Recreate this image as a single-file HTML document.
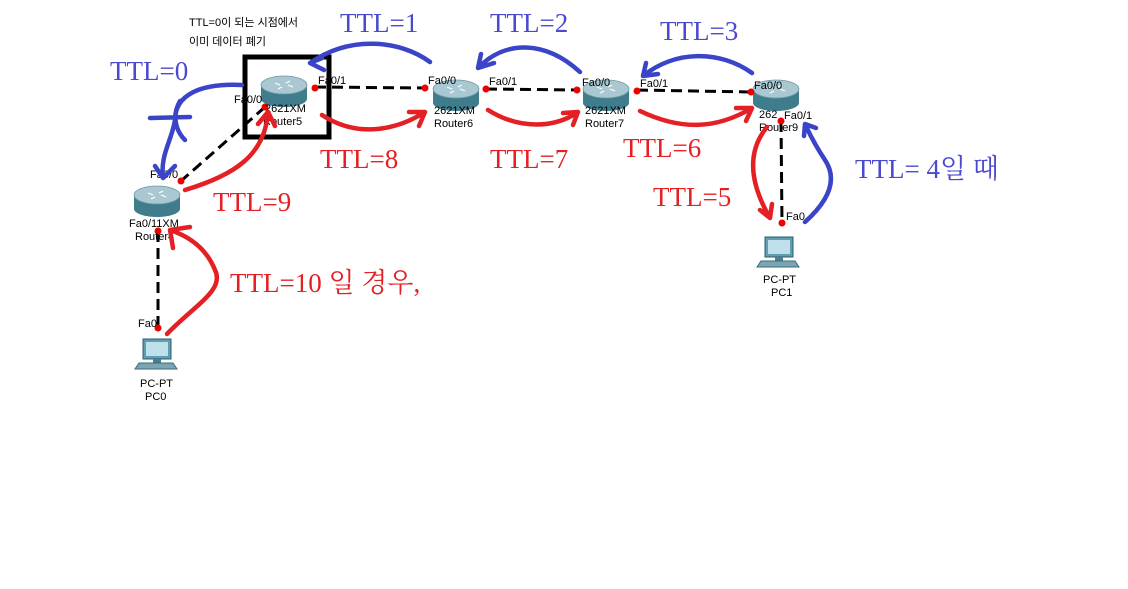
<!DOCTYPE html>
<html><head><meta charset="utf-8"><style>
html,body{margin:0;padding:0;background:#fff;width:1128px;height:589px;overflow:hidden}
svg{display:block}
.s{font-family:"Liberation Sans","Noto Sans CJK KR",sans-serif;font-size:11px;fill:#000}
.b{font-family:"Liberation Serif","Noto Serif CJK SC","Noto Sans CJK KR",serif;font-size:27px}
</style></head><body>
<svg width="1128" height="589" viewBox="0 0 1128 589">
<defs>
<g id="rt"><path d="M-23,-5 L-23,9 A23,8 0 0 0 23,9 L23,-5 Z" fill="#3f7d8d"/><ellipse cx="0" cy="-5" rx="23" ry="9" fill="#a9c8d2" stroke="#6c97a4" stroke-width="0.8"/><path d="M-9,-7 l5,2 M9,-3 l-5,-2 M-6,-1 l4,-2 M6,-9 l-4,2" stroke="#fff" stroke-width="1.2"/></g>
<g id="pc"><rect x="-14" y="-16" width="28" height="20" fill="#5f9db0" stroke="#2d5d6c"/><rect x="-11" y="-13" width="22" height="14" fill="#bfe0ea"/><rect x="-4" y="4" width="8" height="4" fill="#4b7f8f"/><path d="M-18,8 L16,8 L20,14 L-22,14 Z" fill="#7aa5b3" stroke="#3c6b79"/></g>
</defs>
<g stroke="#000" stroke-width="3" stroke-dasharray="11,6" fill="none">
<path d="M315,87 L425,88"/><path d="M486,89 L577,90"/><path d="M637,90 L751,92"/>
<path d="M265,107 L181,181"/><path d="M158,231 L158,328"/><path d="M781,121 L782,224"/>
</g>
<use href="#rt" x="284" y="90"/><use href="#rt" x="456" y="94"/><use href="#rt" x="606" y="94"/><use href="#rt" x="776" y="94"/><use href="#rt" x="157" y="200"/>
<use href="#pc" x="157" y="355"/><use href="#pc" x="779" y="253"/>
<g fill="#e00"><circle cx="315" cy="88" r="3.5"/><circle cx="425" cy="88" r="3.5"/><circle cx="486" cy="89" r="3.5"/><circle cx="577" cy="90" r="3.5"/><circle cx="637" cy="91" r="3.5"/><circle cx="751" cy="92" r="3.5"/><circle cx="265" cy="107" r="3.5"/><circle cx="181" cy="181" r="3.5"/><circle cx="158" cy="231" r="3.5"/><circle cx="158" cy="328" r="3.5"/><circle cx="781" cy="121" r="3.5"/><circle cx="782" cy="223" r="3.5"/></g>
<g class="s">
<text x="318" y="84">Fa0/1</text><text x="428" y="84">Fa0/0</text><text x="489" y="85">Fa0/1</text><text x="582" y="86">Fa0/0</text><text x="640" y="87">Fa0/1</text><text x="754" y="89">Fa0/0</text>
<text x="234" y="103">Fa0/0</text><text x="150" y="178">Fa0/0</text><text x="129" y="227">Fa0/11XM</text><text x="138" y="327">Fa0</text><text x="786" y="220">Fa0</text>
<text x="265" y="112">2621XM</text><text x="263" y="125">Router5</text>
<text x="434" y="114">2621XM</text><text x="434" y="127">Router6</text>
<text x="585" y="114">2621XM</text><text x="585" y="127">Router7</text>
<text x="759" y="118">262</text><text x="784" y="119">Fa0/1</text><text x="759" y="131">Router9</text>
<text x="135" y="240">Router4</text>
<text x="140" y="387">PC-PT</text><text x="145" y="400">PC0</text>
<text x="763" y="283">PC-PT</text><text x="771" y="296">PC1</text>
<text x="189" y="26">TTL=0이 되는 시점에서</text><text x="189" y="45">이미 데이터 폐기</text>
</g>
<rect x="245" y="57" width="84" height="80" fill="none" stroke="#000" stroke-width="5"/>
<g stroke="#e52025" stroke-width="4.5" fill="none" stroke-linecap="round" stroke-linejoin="round">
<path d="M167,334 C195,305 225,290 215,270 C205,245 185,235 170,230 M170,230 l20,-3 M170,230 l3,18"/>
<path d="M185,190 C235,175 265,155 268,112 M268,112 l-10,12 M268,112 l7,14"/>
<path d="M322,115 C360,140 400,128 425,112 M425,112 l-16,0 M425,112 l-6,14"/>
<path d="M488,110 C520,130 555,128 578,112 M578,112 l-15,1 M578,112 l-5,13"/>
<path d="M640,111 C680,130 715,130 752,108 M752,108 l-16,0 M752,108 l-6,13"/>
<path d="M767,127 C748,150 748,180 770,218 M770,218 l-10,-8 M770,218 l2,-14"/>
</g>
<g stroke="#3a44c8" stroke-width="4.5" fill="none" stroke-linecap="round" stroke-linejoin="round">
<path d="M242,85 C200,83 175,95 175,120 C172,140 160,155 163,178 M163,178 l-8,-12 M163,178 l12,-12"/>
<path d="M150,118 L190,117 M180,101 C172,115 175,130 185,140"/>
<path d="M430,62 C400,40 350,35 310,63 M310,63 l12,-5 M310,63 l14,7"/>
<path d="M580,72 C545,40 505,40 478,68 M478,68 l3,-14 M478,68 l16,-5"/>
<path d="M752,73 C720,50 675,50 643,76 M643,76 l3,-13 M643,76 l15,-2"/>
<path d="M805,222 C835,195 835,175 825,160 C815,145 810,135 805,124 M805,124 l-1,12 M805,124 l11,4"/>
</g>
<g class="b">
<text x="110" y="80" fill="#4a4ad0">TTL=0</text>
<text x="340" y="32" fill="#4a4ad0">TTL=1</text>
<text x="490" y="32" fill="#4a4ad0">TTL=2</text>
<text x="660" y="40" fill="#4a4ad0">TTL=3</text>
<text x="855" y="178" fill="#4a4ad0">TTL= 4일 때</text>
<text x="320" y="168" fill="#e52025">TTL=8</text>
<text x="490" y="168" fill="#e52025">TTL=7</text>
<text x="623" y="157" fill="#e52025">TTL=6</text>
<text x="653" y="206" fill="#e52025">TTL=5</text>
<text x="213" y="211" fill="#e52025">TTL=9</text>
<text x="230" y="292" fill="#e52025">TTL=10 일 경우,</text>
</g>
</svg>
</body></html>
